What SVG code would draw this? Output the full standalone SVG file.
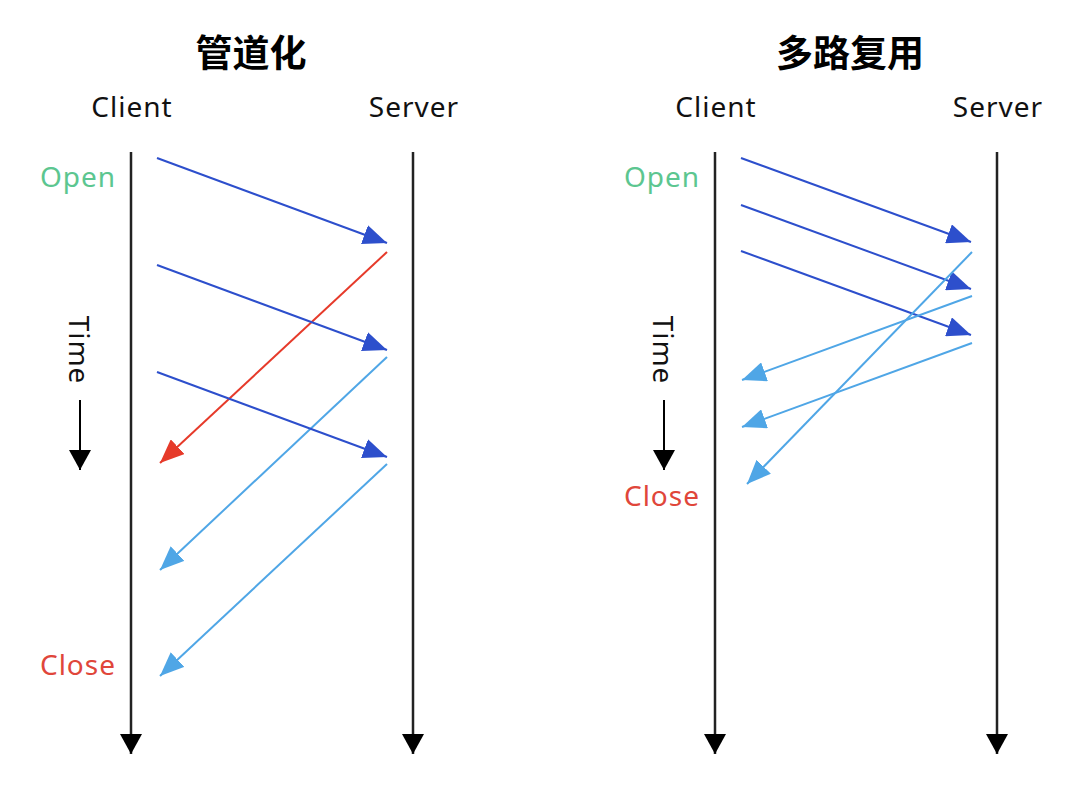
<svg xmlns="http://www.w3.org/2000/svg" width="1088" height="798" viewBox="0 0 1088 798">
<style>
.t{font-family:"Noto Sans CJK SC","Noto Sans",sans-serif;font-weight:bold;font-size:37px;fill:#000;text-anchor:middle}
.l{font-family:"Noto Sans","Open Sans",sans-serif;font-size:28px;letter-spacing:1px;fill:#111;text-anchor:middle}
.open{fill:#5cc690}
.close{fill:#e0463a}
.life{stroke:#222;stroke-width:2.5}
.req{stroke:#2d4fcc;stroke-width:2}
.red{stroke:#e63a2a;stroke-width:2}
.res{stroke:#4fa6e6;stroke-width:2}
</style>
<defs>
<marker id="mk" markerUnits="userSpaceOnUse" markerWidth="24" markerHeight="22" refX="20" refY="11" orient="auto" viewBox="0 0 24 22"><path d="M0,0 L20,11 L0,22 Z" fill="#000"/></marker>
<marker id="mb" markerUnits="userSpaceOnUse" markerWidth="26" markerHeight="20" refX="24" refY="10" orient="auto" viewBox="0 0 26 20"><path d="M0,0 L24,10 L0,20 Z" fill="#2d4fcc"/></marker>
<marker id="mr" markerUnits="userSpaceOnUse" markerWidth="26" markerHeight="20" refX="24" refY="10" orient="auto" viewBox="0 0 26 20"><path d="M0,0 L24,10 L0,20 Z" fill="#e63a2a"/></marker>
<marker id="ml" markerUnits="userSpaceOnUse" markerWidth="26" markerHeight="20" refX="24" refY="10" orient="auto" viewBox="0 0 26 20"><path d="M0,0 L24,10 L0,20 Z" fill="#4fa6e6"/></marker>
</defs>
<rect width="1088" height="798" fill="#fff"/>

<g id="left-panel">
<text class="t" x="251" y="67">管道化</text>
<g id="left-client"><text class="l" x="132" y="117">Client</text></g>
<g id="left-server"><text class="l" x="414" y="117">Server</text></g>
<text class="l open" x="78" y="187">Open</text>
<text class="l close" x="78" y="675">Close</text>
<g id="left-time">
<text class="l" transform="translate(69,350) rotate(90)" x="0" y="0">Time</text>
<line x1="80" y1="400" x2="80" y2="470" stroke="#000" stroke-width="2" marker-end="url(#mk)"/>
</g>
</g>

<g id="right-panel">
<text class="t" x="850" y="67">多路复用</text>
<g id="right-client"><text class="l" x="716" y="117">Client</text></g>
<g id="right-server"><text class="l" x="998" y="117">Server</text></g>
<text class="l open" x="662" y="187">Open</text>
<text class="l close" x="662" y="506">Close</text>
<g id="right-time">
<text class="l" transform="translate(653,350) rotate(90)" x="0" y="0">Time</text>
<line x1="664" y1="400" x2="664" y2="470" stroke="#000" stroke-width="2" marker-end="url(#mk)"/>
</g>
</g>

<g id="connectors" fill="none">
<line class="life" x1="131" y1="152" x2="131" y2="754" marker-end="url(#mk)"/>
<line class="life" x1="413" y1="152" x2="413" y2="754" marker-end="url(#mk)"/>
<line class="life" x1="715" y1="152" x2="715" y2="754" marker-end="url(#mk)"/>
<line class="life" x1="997" y1="152" x2="997" y2="754" marker-end="url(#mk)"/>

<line class="req" x1="157" y1="158" x2="387" y2="243" marker-end="url(#mb)"/>
<line class="red" x1="387" y1="252" x2="160" y2="463" marker-end="url(#mr)"/>
<line class="req" x1="157" y1="265" x2="387" y2="350" marker-end="url(#mb)"/>
<line class="res" x1="387" y1="357" x2="160" y2="570" marker-end="url(#ml)"/>
<line class="req" x1="157" y1="372" x2="387" y2="457" marker-end="url(#mb)"/>
<line class="res" x1="387" y1="464" x2="160" y2="676" marker-end="url(#ml)"/>

<line class="req" x1="741" y1="158" x2="971" y2="242" marker-end="url(#mb)"/>
<line class="req" x1="741" y1="205" x2="971" y2="289" marker-end="url(#mb)"/>
<line class="req" x1="741" y1="251" x2="971" y2="335" marker-end="url(#mb)"/>
<line class="res" x1="972" y1="252" x2="747" y2="484" marker-end="url(#ml)"/>
<line class="res" x1="972" y1="296" x2="742" y2="380" marker-end="url(#ml)"/>
<line class="res" x1="972" y1="343" x2="742" y2="427" marker-end="url(#ml)"/>
</g>
</svg>
